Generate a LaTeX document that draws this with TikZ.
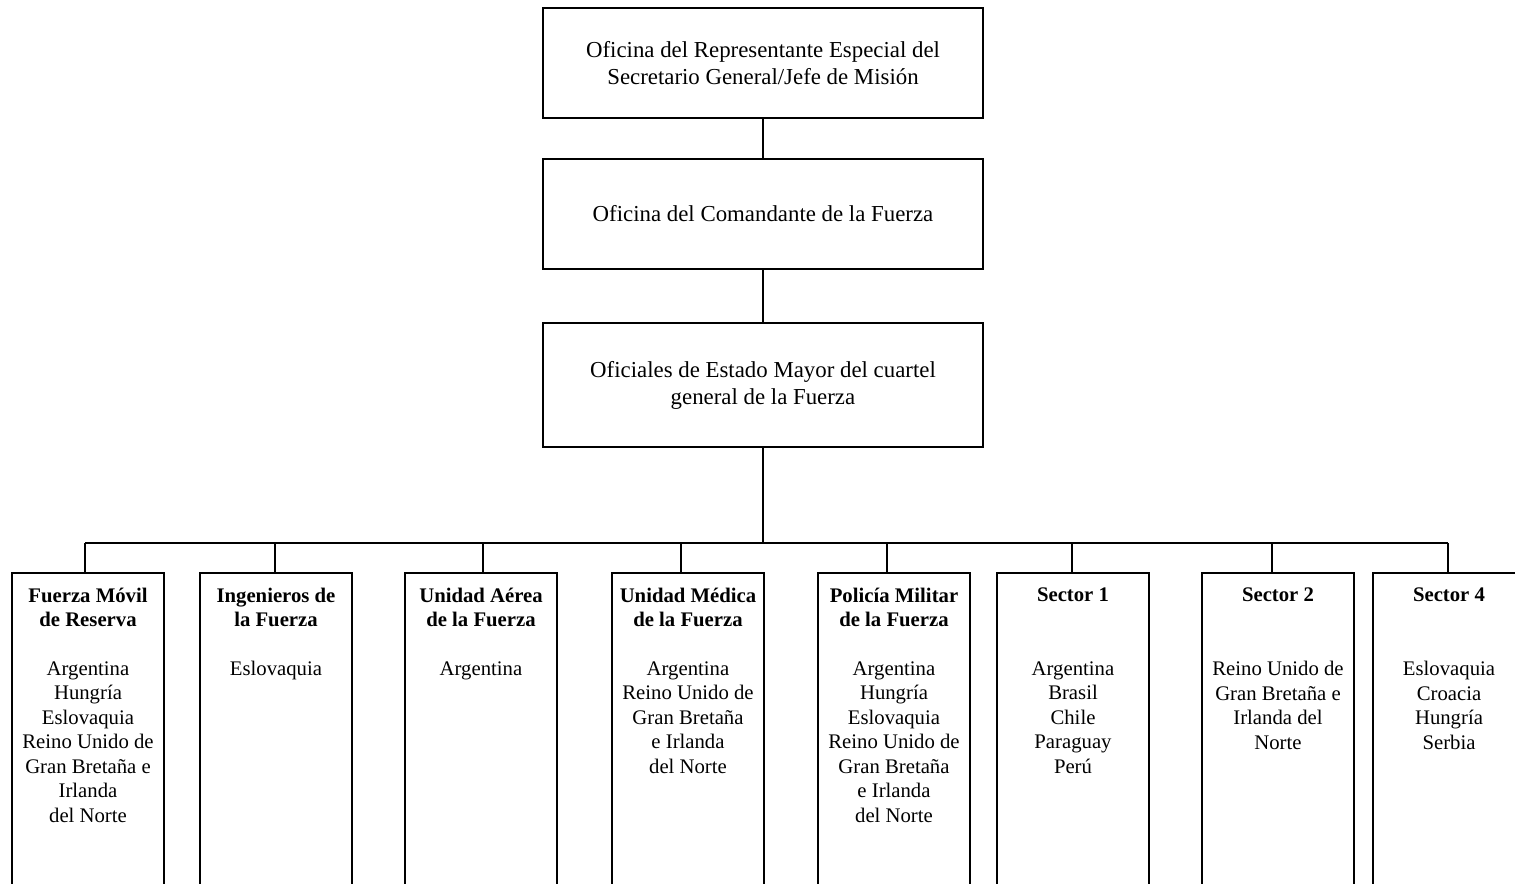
\documentclass[tikz,border=0pt]{standalone}
\usepackage{fontspec}
\setmainfont{Liberation Serif}
\begin{document}
\begin{tikzpicture}[x=0.02cm,y=-0.02cm,line width=1.1pt,
        topbox/.style={draw,minimum width=8.8cm,align=center,font=\fontsize{13}{15.4}\selectfont},
        unitbox/.style={draw,anchor=north,minimum width=3.04cm,minimum height=6.8cm},
        unittitle/.style={anchor=north,align=center,inner sep=0pt,font=\fontsize{11.8}{13.95}\selectfont\bfseries},
        unitbody/.style={anchor=north,align=center,inner sep=0pt,font=\fontsize{11.8}{13.95}\selectfont}]
        \useasboundingbox (0,0) rectangle (1515,884);
        \clip (0,0) rectangle (1515,884);
        \node[topbox,minimum height=2.2cm] (srsg) at (763,63) {Oficina del Representante Especial del\\Secretario General/Jefe de Misión};
        \node[topbox,minimum height=2.2cm] (fc) at (763,214) {Oficina del Comandante de la Fuerza};
        \node[topbox,minimum height=2.48cm] (staff) at (763,385) {Oficiales de Estado Mayor del cuartel\\general de la Fuerza};
        \draw (srsg) -- (fc);
        \draw (fc) -- (staff);
        \foreach \n/\x/\d/\ttl/\lst in {
            1/88/85/{Fuerza Móvil\\de Reserva}/{Argentina\\Hungría\\Eslovaquia\\Reino Unido de\\Gran Bretaña e\\Irlanda\\del Norte},
            2/276/275/{Ingenieros de\\la Fuerza}/{Eslovaquia},
            3/481/483/{Unidad Aérea\\de la Fuerza}/{Argentina},
            4/688/681/{Unidad Médica\\de la Fuerza}/{Argentina\\Reino Unido de\\Gran Bretaña\\e Irlanda\\del Norte},
            5/894/887/{Policía Militar\\de la Fuerza}/{Argentina\\Hungría\\Eslovaquia\\Reino Unido de\\Gran Bretaña\\e Irlanda\\del Norte},
            6/1073/1072/{Sector 1}/{Argentina\\Brasil\\Chile\\Paraguay\\Perú},
            7/1278/1272/{Sector 2}/{Reino Unido de\\Gran Bretaña e\\Irlanda del\\Norte},
            8/1449/1448/{Sector 4}/{Eslovaquia\\Croacia\\Hungría\\Serbia}} {
            \node[unitbox] (b\n) at (\x,572) {};
            \node[unittitle] (t\n) at (\x,587) {\ttl};
            \node[unitbody] (c\n) at (\x,660.5) {\lst};
            \coordinate (d\n) at (\d,543);
            \draw (d\n) -- (d\n |- b\n.north);
        }
        \coordinate (bus) at (763,543);
        \draw (staff) -- (bus);
        \draw (d1) -- (d8);
    \end{tikzpicture}
\end{document}
